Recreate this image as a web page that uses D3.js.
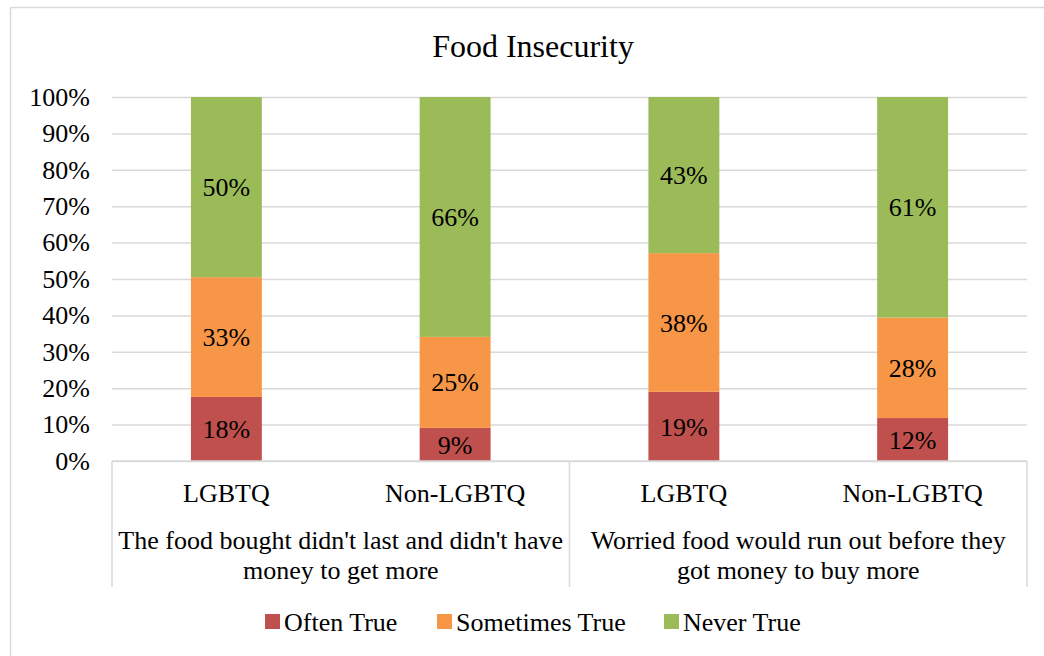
<!DOCTYPE html>
<html>
<head>
<meta charset="utf-8">
<script src="https://cdn.jsdelivr.net/npm/d3@7"></script>
<style>
  body { margin: 0; background: #fff; }
  text { font-family: "Liberation Serif", "Times New Roman", serif; fill: #000; }
</style>
</head>
<body>
<script>
// chart data
const title = 'Food Insecurity';
const bars = ['LGBTQ', 'Non-LGBTQ', 'LGBTQ', 'Non-LGBTQ'];
const groups = [
  ["The food bought didn't last and didn't have", 'money to get more'],
  ['Worried food would run out before they', 'got money to buy more']
];
const seriesNames = ['Often True', 'Sometimes True', 'Never True'];
const oftenTrue = [17.6, 9.1, 19.0, 11.8];
const sometimesTrue = [32.9, 25.0, 38.1, 27.6];
const neverTrue = [49.5, 65.9, 42.9, 60.6];
const yTicks = [0, 10, 20, 30, 40, 50, 60, 70, 80, 90, 100];
const colors = ['#C0504D', '#F79646', '#9BBB59'];

const w = 1044,
      h = 656,
      plotLeft = 112,
      plotRight = 1027,
      plotTop = 97,
      plotBottom = 461,
      grey = '#d9d9d9';

const svg = d3.select('body')
            .append('svg')
            .attr('width', w)
            .attr('height', h)
            .style('display', 'block');

// outer chart border
svg.append('rect')
    .attr('x', 10.5)
    .attr('y', 7.5)
    .attr('width', w)
    .attr('height', h)
    .attr('fill', 'none')
    .attr('stroke', grey)
    .attr('stroke-width', 1.5);

svg.append('text')
    .attr('x', 533)
    .attr('y', 57)
    .attr('text-anchor', 'middle')
    .style('font-size', '32px')
    .text(title);

const xScale = d3.scaleBand()
                .domain(d3.range(bars.length))
                .range([plotLeft, plotRight])
                .paddingInner(0.69)
                .paddingOuter(0.345);

const yScale = d3.scaleLinear()
                .domain([0, 100])
                .range([plotBottom, plotTop]);

// y axis: gridlines + labels
const yAxis = d3.axisLeft(yScale)
                .tickValues(yTicks)
                .tickSize(-(plotRight - plotLeft))
                .tickPadding(22)
                .tickFormat((d) => d + '%');

const yG = svg.append('g')
    .attr('transform', 'translate(' + plotLeft + ',0)')
    .call(yAxis);
yG.select('.domain').remove();
yG.selectAll('line').attr('stroke', grey).attr('stroke-width', 1.5);
yG.selectAll('text')
    .style('font-family', '"Liberation Serif", serif')
    .style('font-size', '26px')
    .attr('fill', '#000');

// stacked bars
const table = bars.map((b, i) => ({i: i, 'Often True': oftenTrue[i], 'Sometimes True': sometimesTrue[i], 'Never True': neverTrue[i]}));
const stacked = d3.stack().keys(seriesNames)(table);

const layers = svg.selectAll('g.layer')
    .data(stacked)
    .enter()
    .append('g')
    .attr('class', 'layer');

layers.selectAll('rect')
    .data((d) => d)
    .enter()
    .append('rect')
    .attr('fill', function() { return colors[stacked.indexOf(d3.select(this.parentNode).datum())]; })
    .attr('x', (d) => xScale(d.data.i))
    .attr('y', (d) => yScale(d[1]))
    .attr('width', xScale.bandwidth())
    .attr('height', (d) => yScale(d[0]) - yScale(d[1]));

layers.selectAll('text')
    .data((d) => d)
    .enter()
    .append('text')
    .attr('x', (d) => xScale(d.data.i) + xScale.bandwidth() / 2)
    .attr('y', (d) => (yScale(d[0]) + yScale(d[1])) / 2)
    .attr('dy', '0.35em')
    .attr('text-anchor', 'middle')
    .style('font-size', '26px')
    .text((d) => Math.round(d[1] - d[0]) + '%');

// category axis (two levels)
const axisLine = svg.append('g').attr('stroke', grey).attr('stroke-width', 1.5);
axisLine.append('line')
    .attr('x1', plotLeft).attr('x2', plotRight)
    .attr('y1', plotBottom).attr('y2', plotBottom);
const groupEdges = [plotLeft, (plotLeft + plotRight) / 2, plotRight];
groupEdges.forEach((x) => {
  axisLine.append('line')
      .attr('x1', x).attr('x2', x)
      .attr('y1', plotBottom).attr('y2', 587);
});

svg.selectAll('text.cat')
    .data(bars)
    .enter()
    .append('text')
    .attr('class', 'cat')
    .attr('x', (d, i) => xScale(i) + xScale.bandwidth() / 2)
    .attr('y', 502)
    .attr('text-anchor', 'middle')
    .style('font-size', '26px')
    .text((d) => d);

groups.forEach((lines, g) => {
  const cx = (xScale(g * 2) + xScale(g * 2 + 1) + xScale.bandwidth()) / 2;
  const t = svg.append('text')
      .attr('text-anchor', 'middle')
      .style('font-size', '26px');
  lines.forEach((l, j) => {
    t.append('tspan')
        .attr('x', cx)
        .attr('y', 549 + j * 30)
        .text(l);
  });
});

// legend
const legendX = [265, 437, 664];
const legend = svg.selectAll('g.legend')
    .data(seriesNames)
    .enter()
    .append('g')
    .attr('class', 'legend')
    .attr('transform', (d, i) => 'translate(' + legendX[i] + ',614)');
legend.append('rect')
    .attr('width', 15)
    .attr('height', 15)
    .attr('fill', (d, i) => colors[i]);
legend.append('text')
    .attr('x', 19)
    .attr('y', 17)
    .style('font-size', '26px')
    .text((d) => d);
</script>
</body>
</html>
